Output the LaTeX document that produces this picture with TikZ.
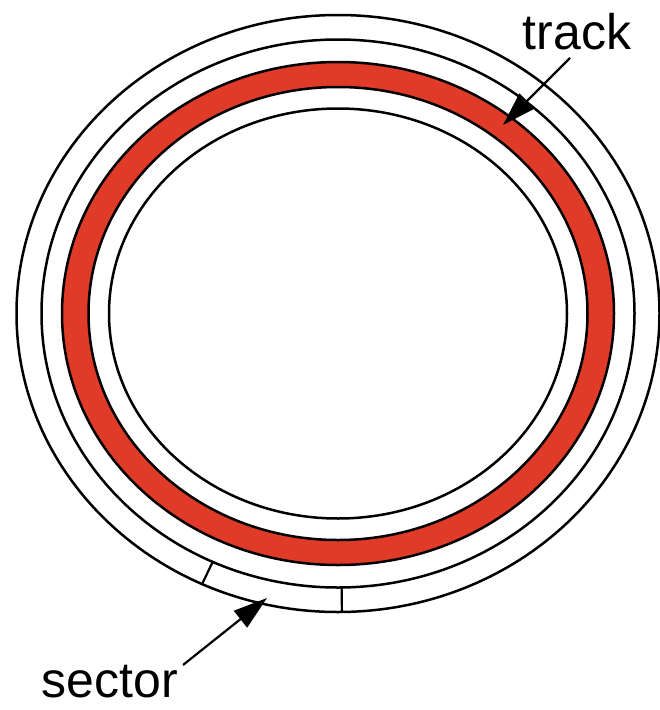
\documentclass[tikz,border=0pt]{standalone}
\usepackage{fontspec}
\setmainfont{Liberation Sans}
\usetikzlibrary{arrows.meta,calc}
\definecolor{trackred}{RGB}{224,58,40}
\begin{document}
\begin{tikzpicture}[x=1pt,y=-1pt,
  ring/.style={draw=black,line width=2.5pt},
  tick/.style={draw=black,line width=2.2pt},
  pointer/.style={draw=black,line width=2.2pt,-{Triangle[length=34pt,width=21pt]}},
  label/.style={inner sep=0pt,anchor=base,font=\fontsize{50}{60}\selectfont}]
\useasboundingbox (0,0) rectangle (660,710);
\coordinate (c) at (338,313.5);
% red track band
\fill[trackred,even odd rule] (c) ellipse [x radius=276, y radius=251.5]
                                (c) ellipse [x radius=249.5, y radius=226.5];
\draw[ring] (c) ellipse [x radius=276, y radius=251.5];
\draw[ring] (c) ellipse [x radius=249.5, y radius=226.5];
% other rings
\draw[ring] (c) ellipse [x radius=321.5, y radius=298.5];
\draw[ring] (c) ellipse [x radius=296.5, y radius=274];
\draw[ring] (c) ellipse [x radius=229, y radius=205];
% sector boundaries
\coordinate (s1i) at ($(c)+(115:296.5 and 274)$);
\coordinate (s1o) at ($(c)+(115:321.5 and 298.5)$);
\coordinate (s2i) at ($(c)+(89.3:296.5 and 274)$);
\coordinate (s2o) at ($(c)+(89.3:321.5 and 298.5)$);
\draw[tick] (s1i) -- (s1o);
\draw[tick] (s2i) -- (s2o);
% labels
\node[label] (track) at (577,49) {track};
\node[label] (sector) at (110,697) {sector};
\coordinate (ttail) at (570,58);
\coordinate (ttip) at (503,125);
\coordinate (stail) at (183,665);
\coordinate (stip) at (267,598);
\draw[pointer] (ttail) -- (ttip);
\draw[pointer] (stail) -- (stip);
\end{tikzpicture}
\end{document}
